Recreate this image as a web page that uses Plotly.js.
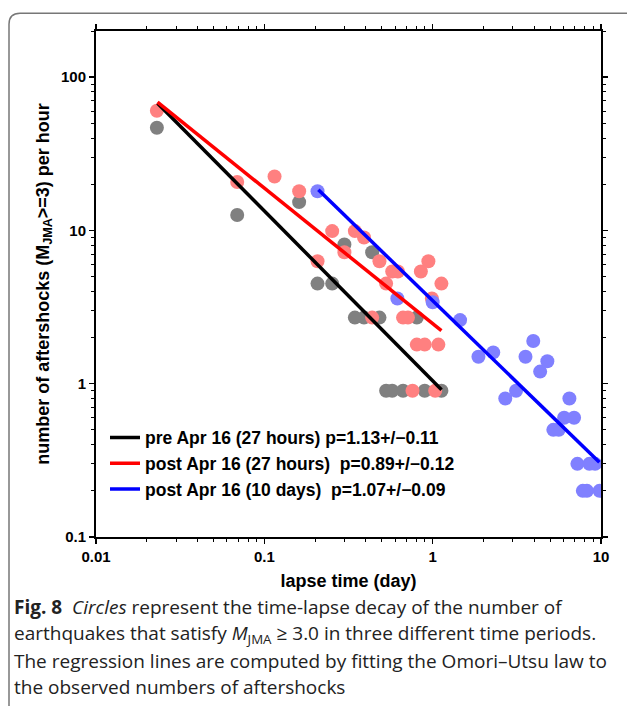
<!DOCTYPE html>
<html>
<head>
<meta charset="utf-8">
<script src="https://cdn.plot.ly/plotly-3.0.1.min.js"></script>
<style>html,body{margin:0;padding:0;background:#fff;}#chart{width:627px;height:706px;}</style>
</head>
<body>
<div id="chart"></div>
<script>
// pre Apr 16 (27 hours) — grey circles
const xPre = [0.023, 0.069, 0.161, 0.207, 0.253, 0.299, 0.345, 0.391, 0.437, 0.483, 0.529, 0.575, 0.667, 0.805, 0.897, 1.127];
const yPre = [46.8, 12.6, 15.3, 4.5, 4.5, 8.1, 2.7, 2.7, 7.2, 2.7, 0.9, 0.9, 0.9, 2.7, 0.9, 0.9];

// post Apr 16 (27 hours) — pink circles
const xPost27 = [0.023, 0.069, 0.115, 0.161, 0.207, 0.253, 0.299, 0.345, 0.391, 0.437, 0.483, 0.529, 0.575, 0.621, 0.667, 0.713, 0.759, 0.805, 0.851, 0.897, 0.943, 0.989, 1.035, 1.081, 1.127];
const yPost27 = [60.3, 20.7, 22.5, 18.0, 6.3, 9.9, 7.2, 9.9, 9.0, 2.7, 6.3, 4.5, 5.4, 5.4, 2.7, 2.7, 0.9, 1.8, 5.4, 1.8, 6.3, 3.6, 0.9, 1.8, 4.5];

// post Apr 16 (10 days) — light blue circles
const xPost10d = [0.207, 0.617, 1.0, 1.455, 1.87, 2.29, 2.70, 3.13, 3.56, 3.96, 4.35, 4.80, 5.21, 5.61, 6.04, 6.49, 6.92, 7.24, 7.80, 8.25, 8.53, 9.22, 9.8];
const yPost10d = [18.0, 3.6, 3.4, 2.6, 1.5, 1.6, 0.8, 0.9, 1.5, 1.9, 1.2, 1.4, 0.5, 0.5, 0.6, 0.8, 0.6, 0.3, 0.2, 0.2, 0.3, 0.3, 0.2];

// regression lines (end points)
const xPreFit = [0.0232, 1.129];
const yPreFit = [67.6, 0.914];
const xPost27Fit = [0.0232, 1.127];
const yPost27Fit = [68.6, 2.22];
const xPost10dFit = [0.2094, 9.78];
const yPost10dFit = [18.4, 0.307];

const legendNames = [
  'pre Apr 16 (27 hours) p=1.13+/\u22120.11',
  'post Apr 16 (27 hours)\u00a0 p=0.89+/\u22120.12',
  'post Apr 16 (10 days)\u00a0 p=1.07+/\u22120.09'
];

const xMajor = [0.01, 0.1, 1, 10];
const xMajorText = ['0.01', '0.1', '1', '10'];
const yMajor = [0.1, 1, 10, 100];
const yMajorText = ['0.1', '1', '10', '100'];

function minorVals(lo, hi) {
  const v = [];
  for (let d = lo; d < hi; d *= 10) for (let m = 2; m <= 9; m++) v.push(+(d * m).toPrecision(3));
  return v;
}

const F = 'Liberation Sans, Arial, Helvetica, sans-serif';
const mk = (x, y, c) => ({x, y, type: 'scatter', mode: 'markers', showlegend: false, hoverinfo: 'skip',
  marker: {size: 14, color: c, line: {width: 0}}, cliponaxis: true});
const ln = (x, y, c, name) => ({x, y, type: 'scatter', mode: 'lines', name, line: {color: c, width: 3.5}});

const data = [
  mk(xPre, yPre, '#808080'),
  mk(xPost27, yPost27, '#ff8080'),
  mk(xPost10d, yPost10d, '#8080ff'),
  ln(xPreFit, yPreFit, '#000000', legendNames[0]),
  ln(xPost27Fit, yPost27Fit, '#ff0000', legendNames[1]),
  ln(xPost10dFit, yPost10dFit, '#0000ff', legendNames[2])
];

// plot area pixel geometry helpers
const L = 96, R = 601, T = 30.7, B = 537;
const px = p => (p - L) / (R - L);
const py = p => (B - p) / (B - T);

const capFont = {family: 'Open Sans, Noto Sans, sans-serif', size: 19, color: '#222'};
const capLines = [
  '<b>Fig. 8</b>\u00a0 <i>Circles</i> represent the time-lapse decay of the number of',
  'earthquakes that satisfy <i>M</i><sub>JMA</sub> \u2265 3.0 in three different time periods.',
  'The regression lines are computed by fitting the Omori\u2013Utsu law to',
  'the observed numbers of aftershocks'
];
const capY = [607, 634, 661, 687];

const annotations = capLines.map((t, i) => ({
  text: t, xref: 'paper', yref: 'paper', x: px(12), y: py(capY[i]),
  xanchor: 'left', yanchor: 'middle', align: 'left', showarrow: false, font: capFont
}));

const axisCommon = {
  type: 'log', showgrid: false, zeroline: false, showline: true, linecolor: '#000', linewidth: 2,
  mirror: 'ticks', ticks: 'outside', ticklen: 5, tickwidth: 1.5, tickcolor: '#000',
  tickfont: {family: F, size: 15, color: '#000', weight: 'bold'}, tickmode: 'array'
};

const layout = {
  width: 627, height: 706,
  margin: {l: L, r: 627 - R, t: T, b: 706 - B},
  paper_bgcolor: '#fff', plot_bgcolor: '#fff',
  showlegend: true,
  legend: {x: px(105), y: py(463.5), xanchor: 'left', yanchor: 'middle', bgcolor: 'rgba(0,0,0,0)',
    font: {family: F, size: 17.5, color: '#000', weight: 'bold'}, borderwidth: 0},
  xaxis: Object.assign({}, axisCommon, {
    range: [-2, 1], tickvals: xMajor, ticktext: xMajorText,
    minor: {tickvals: minorVals(0.01, 10), ticks: 'outside', ticklen: 3, tickwidth: 1, tickcolor: '#000'},
    title: {text: 'lapse time (day)', font: {family: F, size: 18, color: '#000', weight: 'bold'}, standoff: 10}
  }),
  yaxis: Object.assign({}, axisCommon, {
    range: [-1, 2.301], tickvals: yMajor, ticktext: yMajorText,
    minor: {tickvals: minorVals(0.1, 100).concat([200]), ticks: 'outside', ticklen: 3, tickwidth: 1, tickcolor: '#000'},
    title: {text: 'number of aftershocks (M<sub>JMA</sub>&gt;=3) per hour', font: {family: F, size: 18, color: '#000', weight: 'bold'}, standoff: 7}
  }),
  shapes: [{
    type: 'path', xref: 'paper', yref: 'paper',
    path: `M ${px(9)} ${py(706)} L ${px(9)} ${py(24)} Q ${px(9)} ${py(13)} ${px(20)} ${py(13)} L ${px(640)} ${py(13)}`,
    line: {color: '#777', width: 1.5}, layer: 'below'
  }],
  annotations
};

Plotly.newPlot('chart', data, layout, {displayModeBar: false, staticPlot: true});
</script>
</body>
</html>
